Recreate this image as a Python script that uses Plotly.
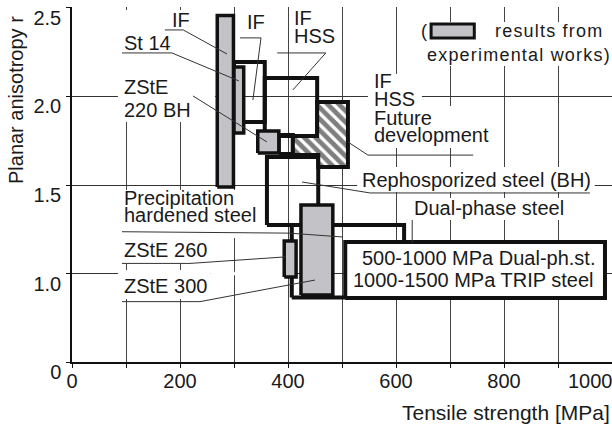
import plotly.graph_objects as go

# ---------------- data ----------------
# axis ticks (y axis is broken: "0" drawn at position 0.5)
x_tick_vals = [0, 100, 200, 300, 400, 500, 600, 700, 800, 900, 1000]
x_tick_text = ["0", "", "200", "", "400", "", "600", "", "800", "", ""]
x_last_label = "1000"
y_tick_vals = [0.5, 1.0, 1.5, 2.0, 2.5]
y_tick_text = ["0", "1.0", "1.5", "2.0", "2.5"]

# ranges of steel groups (outlined boxes)
range_names = ["IF", "IF HSS", "ZStE link", "Rephosphorized steel (BH)", "Precipitation hardened steel"]
range_ts_min = [300, 357, 383, 361, 407]
range_ts_max = [357, 454, 409, 456, 615]
range_r_min = [1.856, 1.777, 1.675, 1.274, 0.864]
range_r_max = [2.195, 2.105, 1.782, 1.658, 1.274]

# future development (hatched L-shaped area)
future_ts = [409, 454, 454, 511, 511, 456, 456, 409]
future_r = [1.777, 1.777, 1.969, 1.969, 1.602, 1.602, 1.669, 1.669]

# dual-phase / TRIP target box
dual_ts = [506, 987]
dual_r = [0.862, 1.178]

# results from experimental works (grey boxes)
exp_names = ["IF", "St 14", "ZStE 220 BH", "ZStE 260", "Dual-phase steel"]
exp_ts_min = [269, 300, 344, 393, 424]
exp_ts_max = [299, 318, 383, 415, 483]
exp_r_min = [1.489, 1.794, 1.681, 0.980, 0.879]
exp_r_max = [2.458, 2.167, 1.805, 1.184, 1.387]

# labels: text, tensile strength, r, x-anchor
label_text = ["IF", "St 14", "IF", "IF", "HSS", "ZStE", "220 BH",
              "IF", "HSS", "Future", "development",
              "Rephosporized steel (BH)", "Dual-phase steel",
              "Precipitation", "hardened steel", "ZStE 260", "ZStE 300",
              "500-1000 MPa Dual-ph.st.", "1000-1500 MPa TRIP steel"]
label_ts = [181.5, 92.6, 320.4, 407, 407, 92.6, 92.6,
            555.6, 555.6, 555.6, 555.6,
            533, 630,
            92.6, 92.6, 92.6, 92.6,
            753, 743]
label_r = [2.432, 2.302, 2.421, 2.444, 2.342, 2.054, 1.924,
           2.088, 1.986, 1.881, 1.785,
           1.528, 1.370,
           1.427, 1.331, 1.133, 0.929,
           1.088, 0.963]
label_anchor = ["left"] * 17 + ["center", "center"]

# leader lines (tensile strength, r) polylines
leader_ts = [[172, 206, 287], [92.6, 185, 309], [311, 350, 335], [380, 470, 409],
             [224, 361], [743, 548, 511], [959, 552, 426],
             [92.6, 402, 502], [92.6, 218.5, 396], [92.6, 237, 450], [630, 630]]
leader_r = [[2.376, 2.376, 2.240], [2.246, 2.246, 2.088], [2.331, 2.331, 1.980],
            [2.246, 2.246, 2.037], [2.003, 1.743], [1.669, 1.669, 1.743],
            [1.455, 1.455, 1.517], [1.236, 1.228, 1.206], [1.057, 1.057, 1.094],
            [0.841, 0.841, 0.963], [1.302, 1.174]]

# white areas behind label blocks (hide grid lines)
cover_ts = [[85, 265], [85, 352], [85, 256], [85, 256], [256, 392], [637, 991],
            [548, 648], [548, 778], [528, 968], [617, 918]]
cover_r = [[1.856, 2.489], [1.201, 1.472], [1.054, 1.201], [0.856, 1.020],
           [0.990, 1.010], [2.172, 2.421], [1.946, 2.127], [1.709, 1.946],
           [1.460, 1.602], [1.302, 1.427]]

# legend key
legend_ts = [665, 745]
legend_r = [2.331, 2.410]

FONT = "Liberation Sans, Arial, sans-serif"
TXT = "#1a1a1a"
GREY = "#c3c3c7"
EDGE = "#111111"


def rect(x0, x1, y0, y1):
    return [x0, x1, x1, x0, x0], [y0, y0, y1, y1, y0]


fig = go.Figure()

# outlined range boxes
for name, a, b, c, d in zip(range_names, range_ts_min, range_ts_max, range_r_min, range_r_max):
    xs, ys = rect(a, b, c, d)
    fig.add_trace(go.Scatter(x=xs, y=ys, mode="lines", name=name,
                             line=dict(color=EDGE, width=4), hoverinfo="skip"))

# hatched future development area
fig.add_trace(go.Scatter(x=future_ts + future_ts[:1], y=future_r + future_r[:1],
                         mode="lines", fill="toself", name="Future development",
                         fillcolor="white",
                         fillpattern=dict(shape="\\", size=8, solidity=0.6,
                                          fgcolor="#000000", bgcolor="white"),
                         line=dict(color=EDGE, width=4), hoverinfo="skip"))

# dual-phase / TRIP box
xs, ys = rect(dual_ts[0], dual_ts[1], dual_r[0], dual_r[1])
fig.add_trace(go.Scatter(x=xs, y=ys, mode="lines", fill="toself", fillcolor="white",
                         line=dict(color=EDGE, width=4), hoverinfo="skip"))

# experimental grey boxes
for name, a, b, c, d in zip(exp_names, exp_ts_min, exp_ts_max, exp_r_min, exp_r_max):
    xs, ys = rect(a, b, c, d)
    fig.add_trace(go.Scatter(x=xs, y=ys, mode="lines", fill="toself", fillcolor=GREY,
                             name=name, line=dict(color=EDGE, width=3.5), hoverinfo="skip"))

shapes = []
for (x0, x1), (y0, y1) in zip(cover_ts, cover_r):
    shapes.append(dict(type="rect", xref="x", yref="y", x0=x0, x1=x1, y0=y0, y1=y1,
                       fillcolor="white", line=dict(width=0), layer="between"))
for lx, ly in zip(leader_ts, leader_r):
    path = "M " + " L ".join(f"{a},{b}" for a, b in zip(lx, ly))
    shapes.append(dict(type="path", xref="x", yref="y", path=path,
                       line=dict(color="#333333", width=1), layer="above"))
shapes.append(dict(type="rect", xref="x", yref="y", x0=legend_ts[0], x1=legend_ts[1],
                   y0=legend_r[0], y1=legend_r[1], fillcolor=GREY,
                   line=dict(color=EDGE, width=3), layer="above"))

annotations = []
for t, x, y, anc in zip(label_text, label_ts, label_r, label_anchor):
    annotations.append(dict(x=x, y=y, xref="x", yref="y", text=t, showarrow=False,
                            xanchor=anc, yanchor="middle",
                            font=dict(family=FONT, size=20, color=TXT)))

# legend text
LS = "letter-spacing:1.2px"
annotations += [
    dict(x=642.6, y=2.370, xref="x", yref="y", text="(", showarrow=False,
         xanchor="left", yanchor="middle", font=dict(family=FONT, size=18, color=TXT)),
    dict(x=779.6, y=2.370, xref="x", yref="y",
         text=f"<span style='{LS}'>results from</span>", showarrow=False,
         xanchor="left", yanchor="middle", font=dict(family=FONT, size=18, color=TXT)),
    dict(x=653.7, y=2.234, xref="x", yref="y",
         text=f"<span style='{LS}'>experimental works)</span>", showarrow=False,
         xanchor="left", yanchor="middle", font=dict(family=FONT, size=18, color=TXT)),
]

# last x tick label (kept inside the page) and axis titles
annotations += [
    dict(x=1, y=0, xref="paper", yref="paper", text=x_last_label, showarrow=False,
         xanchor="right", yanchor="middle", xshift=3, yshift=-19,
         font=dict(family=FONT, size=20, color=TXT)),
    dict(x=1, y=0, xref="paper", yref="paper", text="Tensile strength [MPa]",
         showarrow=False, xanchor="right", yanchor="middle", yshift=-50,
         font=dict(family=FONT, size=21, color=TXT)),
    dict(x=0, y=1.98, xref="paper", yref="y", text="Planar anisotropy r",
         showarrow=False, textangle=-90, xanchor="center", yanchor="middle", xshift=-56,
         font=dict(family=FONT, size=20, color=TXT)),
]

fig.update_layout(
    width=612, height=424,
    margin=dict(l=72, r=0, t=7, b=62),
    paper_bgcolor="white", plot_bgcolor="white",
    showlegend=False,
    shapes=shapes, annotations=annotations,
    font=dict(family=FONT, size=20, color=TXT),
)
fig.update_xaxes(range=[0, 1000], tickvals=x_tick_vals, ticktext=x_tick_text,
                 showgrid=True, gridcolor="#444444", gridwidth=1,
                 showline=True, linecolor="#111111", linewidth=1.5,
                 ticks="outside", ticklen=4, tickcolor="#111111",
                 zeroline=False, ticklabelstandoff=-4,
                 tickfont=dict(family=FONT, size=20, color=TXT))
fig.update_yaxes(range=[0.5, 2.5056], tickvals=y_tick_vals, ticktext=y_tick_text,
                 showgrid=True, gridcolor="#333333", gridwidth=1,
                 showline=True, linecolor="#111111", linewidth=1.5,
                 ticks="outside", ticklen=4, tickcolor="#111111",
                 zeroline=False, ticklabelshift=10, ticklabelstandoff=1,
                 tickfont=dict(family=FONT, size=20, color=TXT))

fig.write_html("out.html")
